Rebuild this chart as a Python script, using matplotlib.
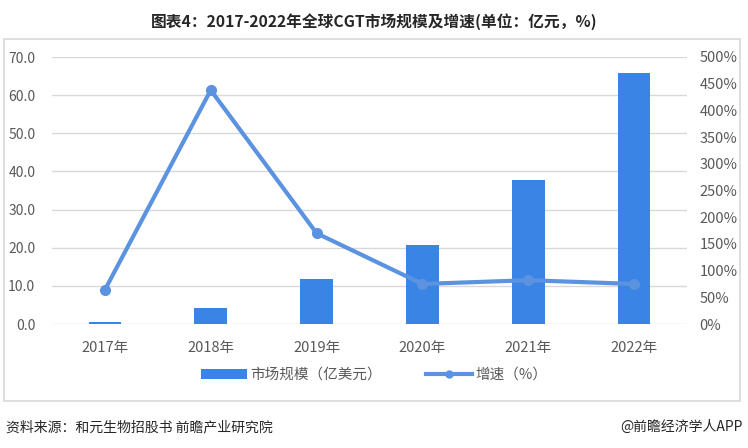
import matplotlib.pyplot as plt
from matplotlib.patches import Rectangle

plt.rcParams['font.family'] = ['Noto Sans CJK SC', 'DejaVu Sans']

# datos
anios = ["2017年", "2018年", "2019年", "2020年", "2021年", "2022年"]
mercado = [0.5, 4.3, 11.9, 20.8, 37.8, 65.9]       # 亿美元
crecimiento = [64, 438, 170, 75, 82, 75]            # %

color_barra = "#3A84E6"
color_linea = "#5B93E0"
gris = "#595959"

fig = plt.figure(figsize=(7.48, 4.48), dpi=100)
fig.patch.set_facecolor("white")

# marco exterior
fig.patches.append(Rectangle((4 / 748, 1 - 401 / 448), 736 / 748, 362 / 448,
                             transform=fig.transFigure, fill=False,
                             edgecolor="#D9D9D9", linewidth=1.2))

ax = fig.add_axes([52 / 748, 1 - 324 / 448, 635 / 748, 267 / 448])
x = range(len(anios))
ax.bar(x, mercado, width=0.31, color=color_barra, zorder=2, label="市场规模（亿美元）")
ax.set_ylim(0, 70)
ax.set_yticks(range(0, 71, 10))
ax.set_yticklabels([f"{v:.1f}" for v in range(0, 71, 10)])
ax.set_xlim(-0.5, 5.5)
ax.set_xticks(list(x))
ax.set_xticklabels(anios)
ax.grid(axis="y", color="#D9D9D9", linewidth=1, zorder=0)
for s in ax.spines.values():
    s.set_visible(False)
ax.tick_params(axis="both", length=0, colors=gris, labelsize=10.5)
ax.tick_params(axis="y", labelsize=10, pad=12)
ax.tick_params(axis="x", pad=12)

ax2 = ax.twinx()
ax2.plot(x, crecimiento, color=color_linea, linewidth=3, marker="o",
         markersize=7, zorder=3, label="增速（%）")
ax2.set_ylim(0, 500)
ax2.set_yticks(range(0, 501, 50))
ax2.set_yticklabels([f"{v}%" for v in range(0, 501, 50)])
for s in ax2.spines.values():
    s.set_visible(False)
ax2.tick_params(axis="y", length=0, colors=gris, labelsize=10.5, pad=9)

h1, l1 = ax.get_legend_handles_labels()
h2, l2 = ax2.get_legend_handles_labels()
leg = fig.legend(h1 + h2, l1 + l2, loc="center", bbox_to_anchor=(0.5, 1 - 375 / 448),
                 ncol=2, frameon=False, fontsize=10.5, labelcolor=gris,
                 handlelength=3.2, handletextpad=0.2, columnspacing=3)
leg.legend_handles[1].set_markersize(5)

fig.text(0.5, 1 - 22 / 448, "图表4：2017-2022年全球CGT市场规模及增速(单位：亿元，%)",
         ha="center", va="center", fontsize=11.3, fontweight="bold", color="#262626")
fig.text(6 / 748, 1 - 427 / 448, "资料来源：和元生物招股书 前瞻产业研究院",
         ha="left", va="center", fontsize=10, color="#262626")
fig.text(743 / 748, 1 - 427 / 448, "@前瞻经济学人APP",
         ha="right", va="center", fontsize=10, color="#262626")

fig.savefig("out.png", dpi=100)
